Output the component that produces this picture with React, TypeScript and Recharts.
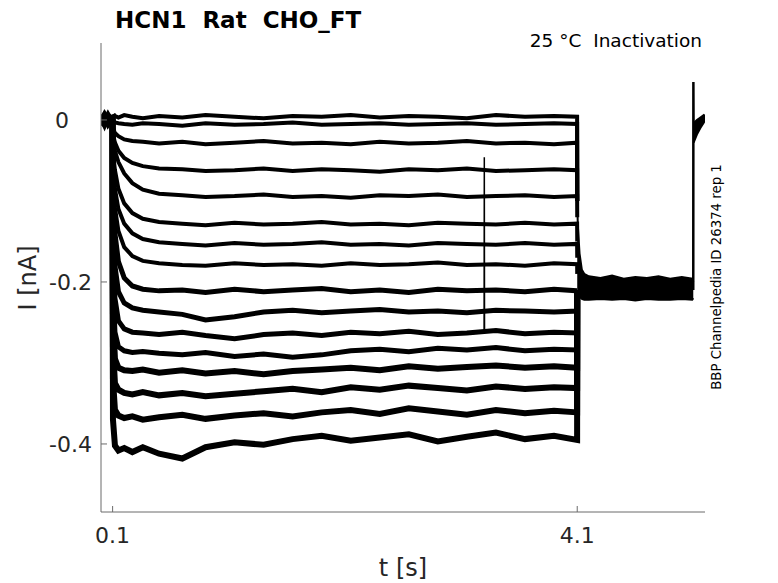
import { Area, ComposedChart, Line, XAxis, YAxis } from "recharts";

// shared sample times for the 16 voltage steps (s)
const sweepTimes = [
  0, 0.03, 0.06, 0.099, 0.103, 0.12, 0.15, 0.2, 0.27, 0.36, 0.5, 0.7, 0.9,
  1.15, 1.4, 1.65, 1.9, 2.15, 2.4, 2.65, 2.9, 3.15, 3.4, 3.65, 3.9, 4.099,
];

// current (nA) per sweep
const sweep01 = [0.006, -0.004, 0.007, 0.001, 0.002, 0.005, 0.003, 0.006, 0.004, 0.002, 0.005, 0.003, 0.006, 0.004, 0.002, 0.005, 0.004, 0.006, 0.003, 0.005, 0.004, 0.002, 0.006, 0.004, 0.005, 0.004];
const sweep02 = [-0.006, 0.004, -0.005, 0.002, -0.001, -0.003, -0.004, -0.005, -0.006, -0.004, -0.005, -0.007, -0.004, -0.006, -0.005, -0.003, -0.006, -0.005, -0.004, -0.006, -0.005, -0.004, -0.006, -0.005, -0.004, -0.005];
const sweep03 = [0.001, -0.008, 0.003, 0.0, -0.01, -0.016, -0.02, -0.024, -0.026, -0.027, -0.029, -0.027, -0.03, -0.028, -0.026, -0.029, -0.028, -0.03, -0.027, -0.029, -0.028, -0.026, -0.029, -0.028, -0.03, -0.028];
const sweep04 = [-0.002, 0.008, 0.0, 0.003, -0.018, -0.028, -0.038, -0.047, -0.053, -0.057, -0.06, -0.061, -0.063, -0.062, -0.06, -0.063, -0.061, -0.062, -0.064, -0.061, -0.062, -0.06, -0.063, -0.062, -0.061, -0.062];
const sweep05 = [0.003, -0.001, 0.008, -0.002, -0.025, -0.038, -0.052, -0.066, -0.078, -0.086, -0.091, -0.093, -0.095, -0.094, -0.092, -0.095, -0.094, -0.096, -0.093, -0.094, -0.092, -0.095, -0.094, -0.093, -0.095, -0.094];
const sweep06 = [0.0, 0.003, -0.007, 0.001, -0.04, -0.062, -0.085, -0.103, -0.115, -0.122, -0.126, -0.128, -0.13, -0.127, -0.129, -0.128, -0.126, -0.129, -0.128, -0.13, -0.127, -0.128, -0.129, -0.127, -0.129, -0.128];
const sweep07 = [-0.007, 0.002, 0.001, -0.002, -0.055, -0.085, -0.11, -0.128, -0.14, -0.147, -0.151, -0.153, -0.155, -0.152, -0.154, -0.153, -0.151, -0.154, -0.153, -0.155, -0.152, -0.153, -0.154, -0.152, -0.154, -0.153];
const sweep08 = [0.002, -0.002, 0.006, 0.0, -0.07, -0.108, -0.137, -0.157, -0.168, -0.174, -0.177, -0.179, -0.18, -0.177, -0.179, -0.178, -0.18, -0.177, -0.179, -0.178, -0.176, -0.179, -0.178, -0.18, -0.177, -0.178];
const sweep09 = [0.001, 0.007, -0.001, 0.002, -0.09, -0.14, -0.175, -0.195, -0.205, -0.209, -0.211, -0.21, -0.213, -0.209, -0.212, -0.21, -0.208, -0.212, -0.21, -0.213, -0.209, -0.211, -0.21, -0.212, -0.209, -0.211];
const sweep10 = [0.0, -0.006, 0.002, -0.001, -0.12, -0.18, -0.212, -0.226, -0.232, -0.235, -0.237, -0.24, -0.247, -0.243, -0.237, -0.235, -0.238, -0.236, -0.234, -0.237, -0.236, -0.238, -0.235, -0.236, -0.237, -0.236];
const sweep11 = [0.002, 0.0, -0.002, 0.001, -0.16, -0.22, -0.248, -0.258, -0.262, -0.263, -0.265, -0.262, -0.266, -0.27, -0.265, -0.263, -0.266, -0.262, -0.264, -0.261, -0.265, -0.263, -0.26, -0.264, -0.262, -0.263];
const sweep12 = [0.001, -0.003, 0.002, 0.0, -0.2, -0.262, -0.28, -0.285, -0.287, -0.286, -0.288, -0.29, -0.287, -0.292, -0.289, -0.293, -0.29, -0.285, -0.283, -0.286, -0.282, -0.284, -0.281, -0.285, -0.283, -0.284];
const sweep13 = [0.0, 0.002, -0.001, 0.002, -0.24, -0.295, -0.306, -0.309, -0.31, -0.308, -0.312, -0.309, -0.313, -0.31, -0.314, -0.31, -0.308, -0.306, -0.309, -0.304, -0.307, -0.305, -0.303, -0.306, -0.304, -0.306];
const sweep14 = [-0.002, 0.001, 0.003, -0.001, -0.28, -0.325, -0.333, -0.337, -0.339, -0.336, -0.34, -0.337, -0.341, -0.338, -0.335, -0.332, -0.336, -0.33, -0.333, -0.328, -0.331, -0.334, -0.329, -0.332, -0.33, -0.331];
const sweep15 = [0.002, -0.001, 0.001, 0.003, -0.32, -0.358, -0.365, -0.368, -0.366, -0.37, -0.367, -0.364, -0.369, -0.365, -0.362, -0.366, -0.361, -0.358, -0.363, -0.356, -0.36, -0.364, -0.358, -0.362, -0.359, -0.361];
const sweep16 = [0.0, 0.002, -0.002, 0.001, -0.37, -0.402, -0.408, -0.405, -0.41, -0.404, -0.412, -0.418, -0.404, -0.398, -0.401, -0.394, -0.39, -0.396, -0.392, -0.388, -0.397, -0.391, -0.386, -0.394, -0.39, -0.395];

// value each sweep jumps to at the end of the step (t = 4.1 s)
const stepEndTime = 4.1;
const jumpValues = [-0.1, -0.1, -0.1, -0.1, -0.12, -0.15, -0.17, -0.19, -0.21, -0.21, -0.21, -0.21, -0.21, -0.21, -0.21, -0.21];

// tail after the step: noisy band around -0.21 nA
const tailTimes = [4.1, 4.105, 4.12, 4.14, 4.16, 4.2, 4.3, 4.4, 4.5, 4.6, 4.7, 4.8, 4.9, 5.0, 5.09, 5.099];
const tailHigh = [-0.1, -0.13, -0.165, -0.185, -0.19, -0.193, -0.195, -0.192, -0.196, -0.194, -0.195, -0.193, -0.196, -0.194, -0.196, -0.2];
const tailLow = [-0.21, -0.215, -0.218, -0.221, -0.222, -0.222, -0.221, -0.222, -0.221, -0.223, -0.221, -0.222, -0.222, -0.221, -0.222, -0.22];

// glitch in one sweep at ~3.3 s
const glitchTimes = [3.298, 3.3, 3.302];
const glitchValues = [-0.262, -0.046, -0.262];

// capacitive spike and recovery at the end of the protocol
const endTimes = [5.099, 5.1, 5.102];
const endValues = [-0.21, 0.047, -0.026];
const recoveryTimes = [5.102, 5.13, 5.16, 5.19, 5.2];
const recoveryHigh = [-0.004, 0.0, 0.003, 0.006, 0.005];
const recoveryLow = [-0.028, -0.018, -0.01, -0.003, -0.001];

const xTicks = [0.1, 4.1];
const yTicks = [-0.4, -0.2, 0];

const sweeps = [
  sweep01, sweep02, sweep03, sweep04, sweep05, sweep06, sweep07, sweep08,
  sweep09, sweep10, sweep11, sweep12, sweep13, sweep14, sweep15, sweep16,
];

const sweepRows = sweeps.map((values, i) => [
  ...sweepTimes.map((t, j) => ({ t, v: values[j] })),
  { t: stepEndTime, v: jumpValues[i] },
]);
const tailRows = tailTimes.map((t, i) => ({ t, band: [tailLow[i], tailHigh[i]] }));
const glitchRows = glitchTimes.map((t, i) => ({ t, v: glitchValues[i] }));
const endRows = endTimes.map((t, i) => ({ t, v: endValues[i] }));
const recoveryRows = recoveryTimes.map((t, i) => ({ t, band: [recoveryLow[i], recoveryHigh[i]] }));

const FONT = "'DejaVu Sans', sans-serif";
const AXIS = "#6b6b6b";
const TEXT = "#262626";

// noisier sweeps at deeper steps read as wider bands
function bandWidth(i: number) {
  if (i < 8) return 4;
  if (i < 12) return 5;
  return 6;
}

function YTick({ x, y, payload }: any) {
  const v = payload.value as number;
  const label = v === 0 ? "0" : v.toFixed(1);
  return (
    <g>
      <line x1={x} x2={x + 6} y1={y} y2={y} stroke={AXIS} />
      <text
        x={v === 0 ? x - 32 : x - 9}
        y={y}
        dy="0.36em"
        textAnchor="end"
        fontFamily={FONT}
        fontSize={22}
        fill={TEXT}
      >
        {label}
      </text>
    </g>
  );
}

function XTick({ x, y, payload }: any) {
  return (
    <g>
      <line x1={x} x2={x} y1={y} y2={y - 6} stroke={AXIS} />
      <text x={x} y={y + 31} textAnchor="middle" fontFamily={FONT} fontSize={22} fill={TEXT}>
        {String(payload.value)}
      </text>
    </g>
  );
}

export default function App() {
  return (
    <div style={{ position: "relative", width: 770, height: 575 }}>
      <ComposedChart width={770} height={575} margin={{ top: 35, right: 73, bottom: 31, left: 33 }}>
        <XAxis
          dataKey="t"
          type="number"
          domain={[0, 5.2]}
          ticks={xTicks}
          allowDataOverflow
          height={40}
          stroke={AXIS}
          tickLine={false}
          tickSize={0}
          tickMargin={0}
          tick={<XTick />}
        />
        <YAxis
          type="number"
          domain={[-0.484, 0.095]}
          ticks={yTicks}
          allowDataOverflow
          width={60}
          stroke={AXIS}
          tickLine={false}
          tickSize={0}
          tickMargin={0}
          tick={<YTick />}
        />
        <Area
          data={tailRows}
          dataKey="band"
          type="linear"
          stroke="#000"
          strokeWidth={2}
          fill="#000"
          fillOpacity={1}
          isAnimationActive={false}
        />
        <Area
          data={recoveryRows}
          dataKey="band"
          type="linear"
          stroke="#000"
          strokeWidth={2}
          fill="#000"
          fillOpacity={1}
          isAnimationActive={false}
        />
        {sweepRows.map((rows, i) => (
          <Line
            key={i}
            data={rows}
            dataKey="v"
            type="linear"
            stroke="#000"
            strokeWidth={bandWidth(i)}
            dot={false}
            isAnimationActive={false}
          />
        ))}
        <Line data={glitchRows} dataKey="v" type="linear" stroke="#000" strokeWidth={1.5} dot={false} isAnimationActive={false} />
        <Line data={endRows} dataKey="v" type="linear" stroke="#000" strokeWidth={2.5} dot={false} isAnimationActive={false} />
      </ComposedChart>
      <svg
        width={770}
        height={575}
        style={{ position: "absolute", left: 0, top: 0, pointerEvents: "none", overflow: "visible" }}
      >
        <text x={107} y={20} fontFamily={FONT} fontSize={23} fontWeight="bold" fill="#000" style={{ whiteSpace: "pre" }}>
          HCN1  Rat  CHO_FT
        </text>
        <text x={694} y={39} textAnchor="end" fontFamily={FONT} fontSize={18.5} fill="#000" style={{ whiteSpace: "pre" }}>
          25 °C  Inactivation
        </text>
        <text x={395} y={568} textAnchor="middle" fontFamily={FONT} fontSize={24} fill={TEXT}>
          t [s]
        </text>
        <text
          x={20}
          y={270}
          textAnchor="middle"
          dominantBaseline="central"
          transform="rotate(-90 20 270)"
          fontFamily={FONT}
          fontSize={24}
          fill={TEXT}
        >
          I [nA]
        </text>
        <text
          x={708}
          y={269}
          textAnchor="middle"
          dominantBaseline="central"
          transform="rotate(-90 708 269)"
          fontFamily={FONT}
          fontSize={13.3}
          fill="#000"
        >
          BBP Channelpedia ID 26374 rep 1
        </text>
      </svg>
    </div>
  );
}
